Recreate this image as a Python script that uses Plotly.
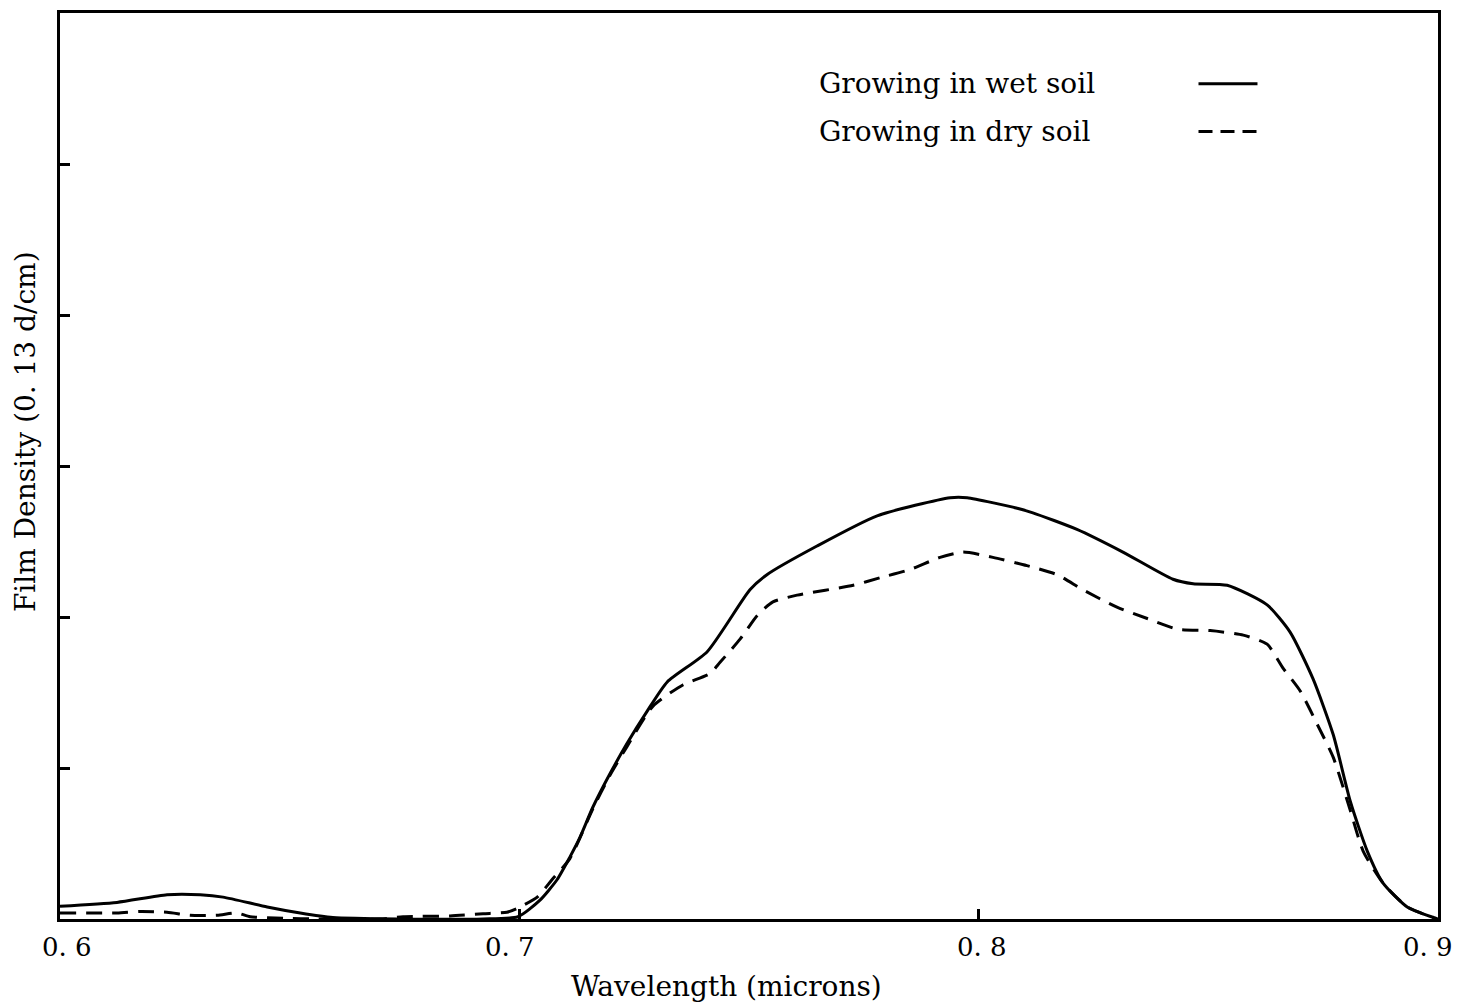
import plotly.graph_objects as go

# Wavelength (microns) and film density readings for the two plant conditions
wet_wavelength = [0.6000, 0.6124, 0.6233, 0.6305, 0.6355, 0.6451, 0.6523, 0.6594, 0.6740,
                  0.6921, 0.6997, 0.7045, 0.7082, 0.7110, 0.7132, 0.7160, 0.7197, 0.7234,
                  0.7278, 0.7322, 0.7409, 0.7502, 0.7539, 0.7648, 0.7779, 0.7938, 0.7975,
                  0.8084, 0.8118, 0.8214, 0.8314, 0.8423, 0.8467, 0.8541, 0.8628, 0.8678,
                  0.8728, 0.8772, 0.8809, 0.8846, 0.8880, 0.8933, 0.8990, 0.9000]
wet_density = [0.085, 0.11, 0.16, 0.16, 0.145, 0.08, 0.04, 0.01, 0.0,
               0.0, 0.015, 0.125, 0.26, 0.41, 0.54, 0.74, 0.96, 1.16,
               1.375, 1.57, 1.77, 2.18, 2.28, 2.47, 2.67, 2.79, 2.79,
               2.72, 2.69, 2.58, 2.43, 2.25, 2.22, 2.21, 2.08, 1.90,
               1.59, 1.22, 0.78, 0.45, 0.24, 0.08, 0.01, 0.0]

dry_wavelength = [0.6000, 0.6124, 0.6174, 0.6233, 0.6283, 0.6342, 0.6385, 0.6414, 0.6486,
                  0.6560, 0.6697, 0.6747, 0.6849, 0.6921, 0.6973, 0.6995, 0.7039, 0.7071,
                  0.7110, 0.7160, 0.7197, 0.7234, 0.7291, 0.7356, 0.7415, 0.7437, 0.7481,
                  0.7518, 0.7552, 0.7605, 0.7727, 0.7785, 0.7851, 0.7916, 0.7966, 0.8031,
                  0.8105, 0.8171, 0.8227, 0.8301, 0.8367, 0.8432, 0.8504, 0.8576, 0.8628,
                  0.8663, 0.8700, 0.8737, 0.8772, 0.8809, 0.8837, 0.8880, 0.8933, 0.8990]
dry_density = [0.04, 0.04, 0.05, 0.045, 0.025, 0.025, 0.04, 0.015, 0.005,
               0.0, 0.0, 0.015, 0.02, 0.035, 0.045, 0.07, 0.145, 0.26,
               0.40, 0.73, 0.95, 1.14, 1.41, 1.55, 1.625, 1.70, 1.855,
               2.01, 2.10, 2.145, 2.21, 2.26, 2.315, 2.395, 2.43, 2.395,
               2.34, 2.28, 2.18, 2.065, 1.99, 1.92, 1.91, 1.88, 1.82,
               1.66, 1.51, 1.29, 1.07, 0.72, 0.45, 0.24, 0.08, 0.01]

x_tick_values = [0.6, 0.7, 0.8, 0.9]
x_tick_labels = ["0. 6", "0. 7", "0. 8", "0. 9"]
y_tick_values = [1, 2, 3, 4, 5]

series_names = ["Growing in wet soil", "Growing in dry soil"]

FONT = "DejaVu Serif"
INK = "black"
TEXT_SIZE = 28

fig = go.Figure()
fig.add_trace(go.Scatter(
    x=wet_wavelength, y=wet_density, mode="lines", name=series_names[0],
    line=dict(color=INK, width=3, shape="spline", smoothing=0.6),
    showlegend=False,
))
fig.add_trace(go.Scatter(
    x=dry_wavelength, y=dry_density, mode="lines", name=series_names[1],
    line=dict(color=INK, width=3, dash="16px,10px", shape="spline", smoothing=0.6),
    showlegend=False,
))

# Key in the upper right: label text followed by a line sample
key_rows = [(0.9219, "solid"), (0.8691, "14px,8px")]
for (ypos, dash), name in zip(key_rows, series_names):
    fig.add_annotation(
        x=0.5493, y=ypos, xref="paper", yref="paper", xanchor="left", yanchor="middle",
        text=name, showarrow=False, font=dict(family=FONT, size=TEXT_SIZE, color=INK),
    )
    fig.add_shape(
        type="line", xref="paper", yref="paper", x0=0.8262, x1=0.8690, y0=ypos, y1=ypos,
        line=dict(color=INK, width=3, dash=dash),
    )

# Wavelength labels under the axis, nudged the way they were typed
label_shifts = [7, -9, 3, -10]
for value, label, shift in zip(x_tick_values, x_tick_labels, label_shifts):
    fig.add_annotation(
        x=value, y=-0.031, xref="x", yref="paper", xanchor="center", yanchor="middle",
        xshift=shift, text=label, showarrow=False,
        font=dict(family=FONT, size=26, color=INK),
    )

# Axis titles
fig.add_annotation(
    x=0.484, y=-0.075, xref="paper", yref="paper", xanchor="center", yanchor="middle",
    text="Wavelength (microns)", showarrow=False,
    font=dict(family=FONT, size=TEXT_SIZE, color=INK),
)
fig.add_annotation(
    x=-0.025, y=0.538, xref="paper", yref="paper", xanchor="center", yanchor="middle",
    text="Film Density (0. 13 d/cm)", textangle=-90, showarrow=False,
    font=dict(family=FONT, size=TEXT_SIZE, color=INK),
)

fig.update_xaxes(
    range=[0.6, 0.9], tickmode="array", tickvals=x_tick_values, showticklabels=False,
    ticks="inside", ticklen=10, tickwidth=3, tickcolor=INK,
    showline=True, linecolor=INK, linewidth=3, mirror=True,
    showgrid=False, zeroline=False,
)
fig.update_yaxes(
    range=[0, 6], tickmode="array", tickvals=y_tick_values, showticklabels=False,
    ticks="inside", ticklen=10, tickwidth=3, tickcolor=INK,
    showline=True, linecolor=INK, linewidth=3, mirror=True,
    showgrid=False, zeroline=False,
)

fig.update_layout(
    width=1460, height=1006,
    margin=dict(l=60, r=22, t=10, b=87),
    paper_bgcolor="white", plot_bgcolor="white",
    font=dict(family=FONT, color=INK),
)

fig.write_html("out.html")
